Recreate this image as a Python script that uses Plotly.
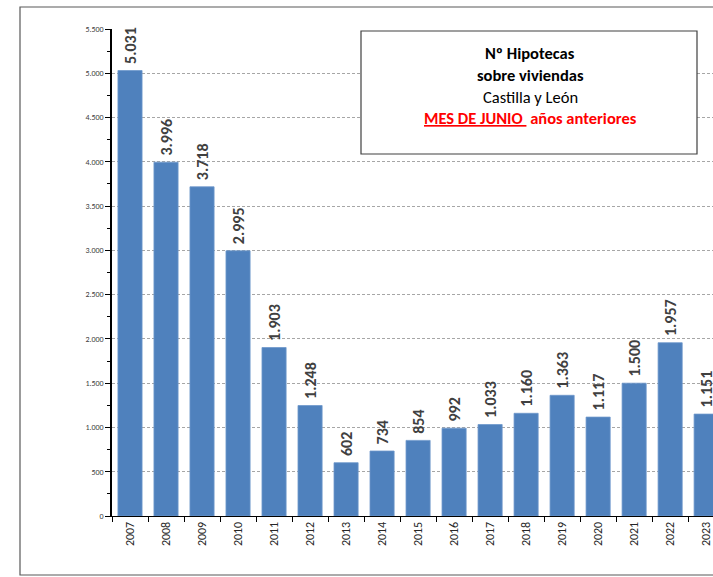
import plotly.graph_objects as go

years = ["2007", "2008", "2009", "2010", "2011", "2012", "2013", "2014", "2015",
         "2016", "2017", "2018", "2019", "2020", "2021", "2022", "2023"]
hipotecas = [5031, 3996, 3718, 2995, 1903, 1248, 602, 734, 854,
             992, 1033, 1160, 1363, 1117, 1500, 1957, 1151]
y_ticks = list(range(0, 5501, 500))

FONT = "Carlito, Open Sans, sans-serif"

W, H = 713, 577
L, T = 112, 29
B0 = 516  # y pixel of zero line
PW, PH = W - L, B0 - T


def px(x):
    return (x - L) / PW


def py(y):
    return (B0 - y) / PH


fig = go.Figure()
fig.add_trace(go.Bar(
    x=years, y=hipotecas,
    marker=dict(color="#4F81BD", line=dict(color="#6E98CC", width=0.8)),
    texttemplate="\u00a0<b>%{y:,}</b>",
    textposition="outside",
    textangle=-90,
    constraintext="none",
    textfont=dict(family=FONT, size=16, color="#404040"),
    cliponaxis=False,
    hoverinfo="skip",
))

fig.update_layout(
    width=W, height=H,
    margin=dict(l=L, r=0, t=T, b=H - B0),
    paper_bgcolor="white", plot_bgcolor="white",
    separators=",.",
    bargap=0.33,
    showlegend=False,
    font=dict(family=FONT, color="#404040"),
)
fig.update_xaxes(
    type="category",
    range=[-0.5, 16.19],
    tickson="boundaries",
    ticks="outside", ticklen=5, tickcolor="black",
    tickangle=-90,
    tickfont=dict(family=FONT, size=12, color="#262626"),
    showline=True, linecolor="black", linewidth=1,
    showgrid=False,
)
fig.update_yaxes(
    range=[0, 5500],
    tickvals=y_ticks,
    tickformat=",",
    ticks="outside", ticklen=5, tickcolor="black",
    tickfont=dict(family=FONT, size=8, color="#404040"),
    showline=True, linecolor="black", linewidth=1.5,
    showgrid=True, gridcolor="#A6A6A6", griddash="3px,2px", gridwidth=0.8,
    zeroline=False,
    minor=dict(dtick=250, ticks="outside", ticklen=3, tickcolor="black", showgrid=False),
)

# outer chart border
fig.add_shape(type="rect", xref="paper", yref="paper",
              x0=px(20), x1=1.05, y0=py(575), y1=py(7),
              line=dict(color="#595959", width=1.2), fillcolor="rgba(0,0,0,0)", layer="below")

# title box
fig.add_shape(type="rect", xref="paper", yref="paper",
              x0=px(361), x1=px(697), y0=py(154), y1=py(31),
              line=dict(color="#404040", width=1.2), fillcolor="white", layer="above")

cx = px(530)
lines = [
    ("<b>Nº Hipotecas</b>", 53, "black"),
    ("<b>sobre viviendas</b>", 75, "black"),
    ("Castilla y León", 97, "black"),
    ("<b><span style='text-decoration:underline'>MES DE JUNIO </span> años anteriores</b>", 118, "#FF0000"),
]
for txt, ypx, col in lines:
    fig.add_annotation(xref="paper", yref="paper", x=cx, y=py(ypx),
                       text=txt, showarrow=False, xanchor="center", yanchor="middle",
                       font=dict(family=FONT, size=16.5, color=col))

fig.write_html("out.html", config={"displayModeBar": False},
               post_script="document.body.style.margin='0';document.body.style.overflow='hidden';")
